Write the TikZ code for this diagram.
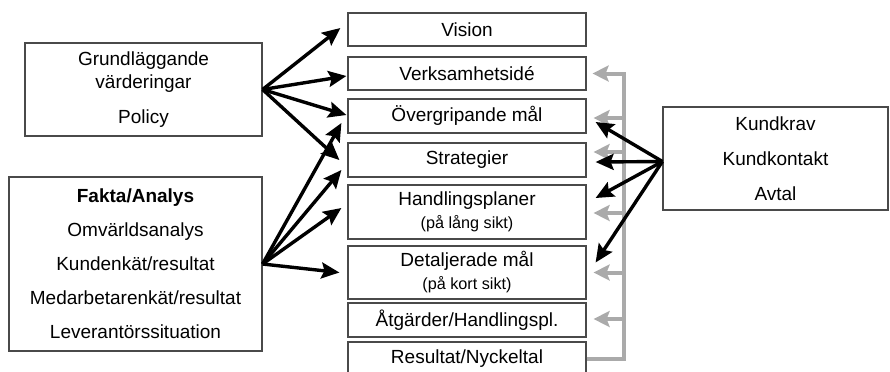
\documentclass[tikz,border=0pt]{standalone}
\usepackage{fontspec}
\setmainfont{Liberation Sans}
\usetikzlibrary{calc,arrows.meta}

\definecolor{busgray}{HTML}{AAAAAA}
\definecolor{boxgray}{HTML}{4A4A4A}
\newcommand{\sikttext}[1]{{\fontsize{8.1}{11.5}\selectfont #1}}

\tikzset{
	box/.style={draw=boxgray,line width=0.6pt,inner sep=0pt,align=center,
		font=\fontsize{9.5}{11.5}\selectfont},
	stepbox/.style={box,minimum width=119pt},
	blackarrow/.style={-{Stealth[length=9pt,width=8pt,inset=1.5pt]},line width=1.7pt},
	grayarrow/.style={-{Stealth[length=8pt,width=8pt,inset=1.5pt]},line width=2pt,draw=busgray}
}

\begin{document}
\begin{tikzpicture}[x=0.5pt,y=-0.5pt]
	\clip (0,0) rectangle (890,371);
	
	%middle column
	\node[stepbox,minimum height=16.5pt] (Vision) at (467,29.5) {Vision};
	\node[stepbox,minimum height=16.5pt] (Verks)  at (467,73.5) {Verksamhetsidé};
	\node[stepbox,minimum height=17pt]   (Oever)  at (467,116)  {Övergripande mål};
	\node[stepbox,minimum height=17pt]   (Strat)  at (467,160)  {Strategier};
	\node[stepbox,minimum height=27pt]   (Handl)  at (467,212)  {Handlingsplaner\\\sikttext{(på lång sikt)}};
	\node[stepbox,minimum height=26.5pt] (Detalj) at (467,272.5){Detaljerade mål\\\sikttext{(på kort sikt)}};
	\node[stepbox,minimum height=17pt]   (Atg)    at (467,320)  {Åtgärder/Handlingspl.};
	\node[stepbox,minimum height=17pt]   (Result) at (467,359)  {Resultat/Nyckeltal};
	
	%side boxes
	\node[box,minimum width=118.5pt,minimum height=46.5pt] (Grund) at (143.5,89.5)
		{Grundläggande\\värderingar\\[6pt]Policy};
	\node[box,minimum width=126.5pt,minimum height=87pt,font=\fontsize{9.5}{17}\selectfont] (Fakta) at (135.5,264)
		{\textbf{Fakta/Analys}\\Omvärldsanalys\\Kundenkät/resultat\\Medarbetarenkät/resultat\\Leverantörssituation};
	\node[box,minimum width=112.5pt,minimum height=51.5pt,font=\fontsize{9.5}{17.5}\selectfont] (Kund) at (775.5,158.5)
		{Kundkrav\\Kundkontakt\\Avtal};
	
	%gray feedback
	\coordinate (busTop) at ($(Verks.east)+(37,0)$);
	\draw[grayarrow,shorten >=3pt] (Result.east) -| (busTop) -- (Verks.east);
	\foreach \b/\dy in {Oever/2, Strat/-8, Handl/1, Detalj/0, Atg/-1}
		\draw[grayarrow] ($(\b.east)+(37,\dy)$) -- ($(\b.east)+(7,\dy)$);
	
	%arrows from Grund
	\draw[blackarrow] (Grund.east) -- ($(Vision.west)+(-7,-1.5)$);
	\draw[blackarrow] (Grund.east) -- ($(Verks.west)+(-1,2.5)$);
	\draw[blackarrow] (Grund.east) -- ($(Oever.west)+(-1,-1)$);
	\draw[blackarrow] (Grund.east) -- ($(Strat.west)+(-8,0)$);
	
	%arrows from Fakta
	\draw[blackarrow] (Fakta.east) -- ($(Oever.west)+(-6,7)$);
	\draw[blackarrow] (Fakta.east) -- ($(Strat.west)+(-6,10)$);
	\draw[blackarrow] (Fakta.east) -- ($(Handl.west)+(-6,-4)$);
	\draw[blackarrow] (Fakta.east) -- ($(Detalj.west)+(-8,0)$);
	
	%arrows from Kund
	\draw[blackarrow] ($(Kund.west)+(0,3)$) -- ($(Oever.east)+(9,6)$);
	\draw[blackarrow] ($(Kund.west)+(0,3)$) -- ($(Strat.east)+(9,2)$);
	\draw[blackarrow] ($(Kund.west)+(0,3)$) -- ($(Handl.east)+(9,-14)$);
	\draw[blackarrow] ($(Kund.west)+(0,3)$) -- ($(Detalj.east)+(9,-10)$);
\end{tikzpicture}
\end{document}
